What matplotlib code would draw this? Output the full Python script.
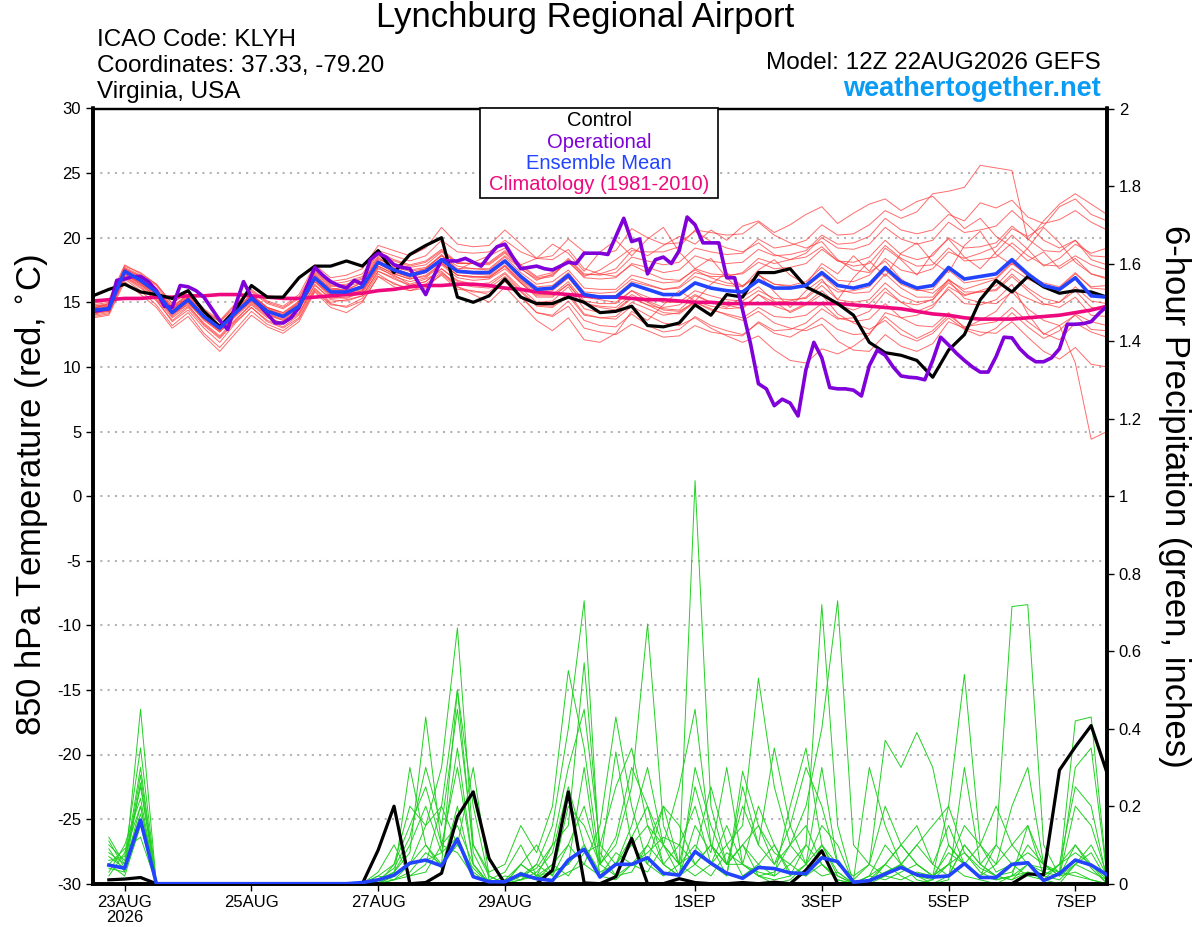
import matplotlib.pyplot as plt
import numpy as np
from matplotlib.patches import Rectangle

plt.rcParams['font.family'] = ['Liberation Sans', 'DejaVu Sans']
plt.rcParams['axes.unicode_minus'] = False

# GEFS 12Z 22AUG2026, forecast hours
hours = np.arange(0, 385, 6)
op_hours = np.arange(0, 385, 3)
precip_hours = hours[1:]

tick_hours = [12, 60, 108, 156, 228, 276, 324, 372]
tick_labels = ['23AUG\n2026', '25AUG', '27AUG', '29AUG', '1SEP', '3SEP', '5SEP', '7SEP']

# 850 hPa temperature (C)
control_temp = [
    15.5, 16.0, 16.4, 15.8, 15.6, 15.3, 15.9, 14.3, 13.1, 14.4, 16.3, 15.4, 15.4,
    16.9, 17.8, 17.8, 18.2, 17.8, 19.0, 17.3, 18.7, 19.4, 20.0, 15.4, 15.0, 15.5,
    16.8, 15.4, 14.9, 14.9, 15.4, 15.0, 14.2, 14.3, 14.7, 13.2, 13.1, 13.4, 14.8,
    14.0, 15.6, 15.4, 17.3, 17.3, 17.6, 16.2, 15.6, 14.9, 14.0, 11.9, 11.1, 10.9,
    10.5, 9.2, 11.3, 12.5, 15.2, 16.7, 15.8, 17.0, 16.2, 15.7, 15.9, 15.8, 15.4]

mean_temp = [
    14.4, 14.5, 17.4, 16.7, 15.8, 14.2, 15.2, 13.9, 13.0, 14.2, 15.3, 14.3, 13.9,
    14.7, 16.9, 15.8, 15.8, 16.2, 18.1, 17.5, 17.1, 17.4, 18.3, 17.4, 17.3, 17.3,
    18.2, 17.0, 16.0, 16.1, 17.1, 15.6, 15.4, 15.4, 16.4, 16.0, 15.6, 15.6, 16.5,
    16.1, 15.9, 15.8, 16.7, 16.1, 16.1, 16.3, 17.3, 16.3, 16.1, 16.4, 17.7, 16.6,
    16.1, 16.3, 17.7, 16.8, 17.0, 17.2, 18.3, 17.2, 16.3, 16.0, 16.9, 15.5, 15.4]

clim_temp = [
    15.1, 15.2, 15.3, 15.3, 15.4, 15.4, 15.5, 15.5, 15.6, 15.6, 15.5, 15.4, 15.3,
    15.3, 15.4, 15.5, 15.6, 15.7, 15.9, 16.0, 16.2, 16.3, 16.3, 16.4, 16.4, 16.3,
    16.1, 16.0, 15.8, 15.7, 15.6, 15.5, 15.4, 15.4, 15.3, 15.2, 15.2, 15.1, 15.0,
    15.0, 14.9, 14.9, 14.9, 14.9, 14.9, 14.9, 14.9, 14.9, 14.8, 14.7, 14.6, 14.5,
    14.3, 14.1, 14.0, 13.8, 13.7, 13.7, 13.7, 13.8, 13.9, 14.0, 14.2, 14.4, 14.7]

# operational run is 3-hourly
operational_temp = [
    14.3, 14.4, 14.5, 16.7, 16.8, 17.0, 17.0, 16.6, 15.9, 14.7, 14.6, 16.3, 16.2,
    15.9, 15.4, 14.5, 13.6, 12.9, 14.8, 16.6, 15.4, 14.8, 14.1, 13.4, 13.4, 13.8,
    14.6, 16.2, 17.7, 17.1, 16.6, 16.3, 16.1, 16.7, 16.4, 18.3, 18.8, 18.5, 17.9,
    17.7, 17.6, 16.6, 15.6, 17.0, 18.3, 18.2, 18.2, 18.4, 18.1, 17.8, 18.6, 19.3,
    19.5, 18.5, 17.6, 17.7, 17.8, 17.6, 17.5, 17.8, 18.1, 18.0, 18.8, 18.8, 18.8,
    18.7, 20.1, 21.5, 19.7, 19.9, 17.2, 18.3, 18.5, 18.0, 19.0, 21.6, 21.0, 19.6,
    19.6, 19.6, 16.9, 16.9, 14.4, 11.8, 8.7, 8.3, 7.0, 7.5, 7.2, 6.2, 9.8,
    11.9, 10.7, 8.4, 8.3, 8.3, 8.2, 7.75, 10.1, 11.3, 10.9, 10.0, 9.3, 9.2,
    9.15, 9.0, 10.5, 12.3, 11.7, 11.05, 10.5, 10.0, 9.6, 9.6, 10.8, 12.3, 12.25,
    11.4, 10.8, 10.4, 10.4, 10.7, 11.4, 13.3, 13.3, 13.35, 13.5, 14.15, 14.7]

member_temp = [
    [14.9, 15.2, 17.9, 17.2, 16.4, 14.9, 15.9, 14.4, 13.5, 14.8, 15.8, 14.9, 14.5,
     15.3, 17.5, 16.4, 16.6, 17.0, 18.9, 18.3, 17.9, 18.2, 19.1, 18.1, 18.0, 18.1,
     19.0, 17.9, 17.0, 17.3, 18.4, 17.2, 17.1, 17.3, 18.5, 18.2, 17.9, 18.1, 19.2,
     18.9, 18.7, 18.8, 19.9, 19.2, 19.4, 19.8, 21.0, 20.2, 20.3, 21.0, 22.1, 21.5,
     22.0, 23.4, 23.6, 23.9, 25.6, 25.4, 25.2, 19.8, 21.3, 22.6, 23.4, 22.6, 21.8],
    [14.1, 14.3, 17.0, 16.2, 15.1, 13.6, 14.6, 13.2, 12.2, 13.5, 14.6, 13.6, 13.1,
     14.0, 16.1, 15.0, 15.2, 15.5, 17.4, 16.9, 16.3, 16.6, 17.6, 16.7, 16.4, 16.5,
     17.3, 16.1, 15.0, 15.1, 16.2, 14.5, 14.2, 14.3, 15.3, 14.8, 14.5, 14.4, 15.5,
     15.0, 14.8, 14.5, 15.6, 14.7, 14.3, 14.9, 15.9, 14.8, 14.4, 14.9, 16.1, 15.0,
     14.3, 14.8, 16.0, 14.9, 14.8, 15.2, 16.4, 14.1, 12.5, 13.2, 10.3, 4.4, 5.0],
    [13.8, 14.0, 16.6, 15.6, 14.6, 13.0, 13.9, 12.4, 11.2, 12.6, 14.0, 13.1, 12.6,
     13.5, 15.8, 14.6, 14.2, 15.0, 17.0, 16.2, 15.9, 16.3, 17.1, 16.0, 15.9, 15.6,
     16.6, 15.5, 14.2, 14.0, 15.1, 13.6, 13.2, 13.1, 14.1, 13.2, 12.7, 12.9, 13.9,
     13.2, 12.8, 12.5, 13.4, 12.6, 12.3, 13.0, 13.8, 12.9, 12.5, 12.6, 13.9, 12.9,
     12.2, 12.8, 14.0, 13.1, 13.3, 13.5, 14.6, 13.5, 12.6, 12.1, 13.4, 12.7, 12.3],
    [14.6, 14.8, 17.7, 17.1, 16.3, 14.7, 15.6, 14.3, 13.5, 14.6, 15.9, 15.0, 14.6,
     15.4, 17.6, 16.6, 16.8, 17.2, 19.0, 18.6, 18.2, 18.6, 19.8, 18.9, 18.8, 18.9,
     19.8, 18.9, 18.4, 18.6, 19.9, 18.9, 18.7, 19.0, 20.7, 20.0, 19.5, 19.6, 20.5,
     19.7, 19.2, 18.9, 19.6, 18.7, 18.3, 18.5, 19.3, 18.2, 17.8, 18.0, 19.4, 18.4,
     17.8, 17.9, 19.2, 18.2, 18.3, 18.5, 19.6, 18.6, 17.9, 17.8, 18.6, 17.9, 17.5],
    [14.2, 14.4, 17.2, 16.5, 15.6, 14.0, 15.0, 13.6, 12.7, 13.9, 15.0, 14.0, 13.6,
     14.4, 16.6, 15.4, 15.3, 15.8, 17.7, 17.0, 16.6, 16.9, 17.9, 16.9, 16.7, 16.8,
     17.6, 16.5, 15.4, 15.4, 16.4, 14.9, 14.7, 14.6, 15.6, 15.0, 14.4, 14.3, 15.0,
     14.5, 14.0, 13.6, 14.3, 13.4, 13.0, 12.8, 13.3, 12.0, 11.3, 11.2, 12.5, 11.6,
     11.2, 11.8, 13.5, 13.0, 13.6, 14.3, 15.9, 15.3, 14.8, 15.0, 16.2, 15.1, 14.9],
    [14.5, 14.6, 17.3, 16.9, 15.9, 14.5, 15.3, 14.0, 13.1, 14.4, 15.5, 14.6, 14.1,
     14.9, 17.2, 16.0, 16.0, 16.5, 18.4, 17.7, 17.4, 17.6, 18.6, 17.6, 17.6, 17.5,
     18.5, 17.3, 16.4, 16.6, 17.5, 16.1, 16.0, 16.0, 17.1, 16.8, 16.5, 16.6, 17.6,
     17.2, 17.1, 17.2, 18.1, 17.6, 17.7, 18.0, 19.1, 18.2, 18.1, 18.5, 19.8, 18.7,
     18.3, 18.6, 20.0, 19.2, 19.3, 19.6, 20.9, 19.9, 19.0, 18.9, 19.8, 18.6, 18.5],
    [14.0, 14.2, 16.9, 16.1, 15.2, 13.5, 14.4, 13.0, 11.9, 13.4, 14.6, 13.5, 13.0,
     13.8, 16.0, 14.9, 14.6, 15.1, 17.0, 16.5, 15.9, 16.1, 17.2, 16.2, 15.8, 15.8,
     16.8, 15.4, 14.2, 13.9, 14.7, 13.0, 12.7, 12.5, 13.3, 12.8, 12.3, 12.4, 13.2,
     12.7, 12.5, 12.4, 13.5, 12.8, 12.9, 13.4, 14.5, 13.7, 13.8, 14.3, 15.8, 15.0,
     14.8, 15.2, 16.7, 16.0, 16.4, 16.8, 18.0, 17.1, 16.5, 16.2, 17.3, 16.1, 16.0],
    [14.7, 14.9, 17.8, 17.3, 16.4, 14.9, 15.8, 14.5, 13.6, 14.9, 16.0, 15.1, 14.7,
     15.6, 17.9, 16.9, 17.1, 17.6, 19.4, 19.0, 18.6, 19.2, 20.8, 19.5, 19.3, 19.4,
     20.6, 19.5, 18.4, 18.3, 19.1, 17.6, 17.2, 17.0, 17.9, 17.3, 16.8, 16.7, 17.5,
     16.9, 16.5, 16.3, 17.1, 16.4, 16.2, 16.2, 17.1, 16.0, 15.7, 15.8, 17.2, 16.1,
     15.4, 15.4, 16.8, 15.8, 15.8, 15.9, 17.0, 15.9, 14.9, 14.6, 15.4, 14.0, 13.9],
    [14.3, 14.6, 17.5, 16.6, 15.7, 14.3, 15.3, 13.8, 12.8, 14.0, 15.2, 14.2, 13.8,
     14.6, 16.8, 15.7, 15.6, 16.1, 18.0, 17.3, 17.0, 17.3, 18.1, 17.1, 17.0, 17.0,
     17.9, 16.7, 15.8, 15.9, 16.9, 15.5, 15.4, 15.5, 16.6, 16.3, 16.0, 16.2, 17.3,
     17.0, 17.0, 17.3, 18.4, 18.0, 18.3, 18.8, 20.0, 19.2, 19.1, 19.5, 20.8, 19.9,
     19.5, 19.8, 21.2, 20.4, 20.6, 20.9, 22.1, 21.0, 19.8, 19.2, 19.8, 18.3, 17.9],
    [14.4, 14.4, 17.1, 16.4, 15.5, 13.9, 14.9, 13.7, 12.9, 14.1, 15.1, 14.1, 13.7,
     14.5, 16.6, 15.6, 15.6, 15.9, 17.8, 17.2, 16.8, 17.0, 18.0, 17.1, 17.0, 16.9,
     17.8, 16.5, 15.5, 15.5, 16.4, 14.9, 14.6, 14.4, 15.4, 14.8, 14.2, 14.1, 15.0,
     14.4, 14.1, 13.8, 14.6, 13.9, 13.8, 14.0, 14.9, 13.8, 13.5, 13.7, 14.9, 13.8,
     13.2, 13.1, 14.2, 13.0, 12.7, 12.6, 13.5, 12.3, 11.2, 10.6, 11.5, 10.2, 10.0],
    [14.6, 14.7, 17.5, 16.8, 15.9, 14.4, 15.4, 14.1, 13.3, 14.5, 15.6, 14.6, 14.2,
     15.0, 17.3, 16.2, 16.3, 16.8, 18.6, 18.0, 17.7, 17.9, 18.9, 18.0, 18.0, 17.9,
     18.8, 17.6, 16.8, 17.0, 18.3, 17.1, 17.2, 17.6, 19.0, 18.9, 18.9, 19.3, 20.6,
     20.4, 20.2, 20.3, 21.2, 20.2, 19.6, 19.2, 19.7, 18.3, 17.5, 17.3, 18.2, 16.8,
     16.0, 15.7, 16.7, 15.3, 15.0, 14.9, 15.8, 14.5, 13.6, 13.2, 14.0, 12.9, 12.8],
    [14.2, 14.3, 17.0, 16.3, 15.3, 13.8, 14.7, 13.4, 12.4, 13.7, 14.8, 13.8, 13.4,
     14.2, 16.4, 15.2, 15.1, 15.5, 17.4, 16.8, 16.3, 16.6, 17.6, 16.6, 16.4, 16.3,
     17.2, 15.9, 14.8, 14.7, 15.7, 14.1, 13.8, 13.7, 14.7, 14.0, 13.4, 13.2, 13.8,
     13.0, 12.4, 11.9, 12.4, 11.3, 10.5, 10.3, 11.4, 11.0, 11.6, 12.5, 14.2, 13.8,
     14.0, 14.6, 16.2, 15.5, 15.9, 16.3, 17.6, 16.8, 16.2, 16.1, 17.2, 16.2, 16.3],
    [14.7, 14.8, 17.6, 17.0, 16.1, 14.6, 15.5, 14.2, 13.2, 14.5, 15.6, 14.6, 14.2,
     15.1, 17.4, 16.3, 16.4, 16.9, 18.8, 18.2, 17.8, 18.1, 19.0, 18.0, 18.0, 18.0,
     18.9, 17.8, 16.9, 17.1, 18.2, 16.9, 16.8, 16.9, 18.0, 17.7, 17.3, 17.5, 18.6,
     18.2, 18.0, 18.1, 19.1, 18.6, 18.7, 19.0, 20.2, 19.5, 19.6, 20.1, 21.5, 20.6,
     20.3, 20.6, 21.8, 21.3, 22.7, 22.3, 22.9, 21.6, 21.1, 21.4, 22.1, 21.2, 20.6],
    [14.3, 14.5, 17.2, 16.5, 15.6, 14.1, 15.0, 13.7, 12.7, 14.0, 15.1, 14.1, 13.6,
     14.4, 16.7, 15.5, 15.5, 15.9, 17.8, 17.2, 16.8, 17.1, 18.0, 17.1, 16.9, 16.9,
     17.8, 16.6, 15.6, 15.6, 16.6, 15.1, 14.9, 14.9, 15.9, 15.4, 15.0, 15.0, 15.9,
     15.5, 15.2, 15.1, 15.9, 15.3, 15.2, 15.3, 16.3, 15.2, 15.0, 15.2, 16.5, 15.5,
     15.0, 15.2, 16.5, 15.6, 15.8, 16.0, 17.2, 16.1, 15.3, 15.0, 15.9, 14.6, 14.5],
    [14.5, 14.9, 17.6, 16.8, 15.7, 14.6, 15.6, 14.2, 13.0, 14.3, 15.4, 14.4, 14.0,
     14.8, 17.1, 16.1, 15.9, 16.6, 18.5, 17.6, 17.2, 17.6, 18.7, 17.5, 18.1, 18.6,
     19.2, 17.9, 18.4, 19.5, 18.8, 17.4, 18.9, 19.8, 18.6, 19.9, 20.8, 18.9, 17.6,
     18.4, 16.9, 15.7, 17.2, 15.8, 14.6, 15.9, 16.8, 15.2, 16.9, 18.2, 17.0, 18.8,
     19.6, 18.1, 17.3, 19.4, 20.5, 18.7, 17.9, 19.2, 20.8, 19.6, 18.1, 17.2, 16.8],
    [14.0, 14.6, 17.2, 16.4, 15.4, 14.1, 14.8, 13.3, 12.3, 13.6, 14.9, 13.9, 13.3,
     14.1, 16.3, 15.3, 15.4, 15.7, 17.6, 17.1, 16.4, 16.8, 17.4, 16.2, 15.6, 15.0,
     16.2, 14.9, 13.6, 12.8, 13.8, 12.1, 11.9, 12.6, 14.3, 13.6, 14.8, 15.9, 15.1,
     16.4, 17.3, 16.2, 17.5, 18.3, 17.1, 16.4, 18.0, 17.2, 18.6, 17.4, 19.2, 18.3,
     17.1, 18.8, 19.9, 18.5, 17.6, 18.9, 20.2, 19.1, 17.8, 18.4, 19.5, 18.8, 19.2],
    [14.8, 15.0, 17.6, 17.0, 16.0, 14.5, 15.4, 14.0, 13.2, 14.3, 15.4, 14.5, 14.0,
     15.0, 17.0, 16.0, 16.2, 16.6, 18.3, 17.9, 17.5, 17.7, 18.6, 17.8, 17.6, 17.6,
     18.6, 17.6, 16.7, 17.2, 18.1, 17.0, 17.5, 18.3, 19.2, 18.6, 19.4, 20.1, 19.5,
     20.6, 19.8, 20.9, 21.3, 20.4, 21.0, 21.8, 22.4, 21.1, 21.9, 22.6, 23.0, 22.1,
     22.8, 23.2, 22.0, 20.7, 21.5, 20.1, 19.3, 18.2, 18.9, 17.6, 18.4, 17.2, 16.9],
    [14.6, 14.5, 17.3, 16.6, 15.8, 14.3, 15.1, 13.8, 12.8, 14.1, 15.2, 14.3, 13.8,
     14.6, 16.8, 15.7, 15.7, 16.0, 18.0, 17.4, 16.9, 17.3, 18.2, 17.3, 17.2, 17.1,
     18.1, 16.8, 15.9, 16.0, 16.9, 15.4, 15.2, 15.0, 15.9, 15.1, 14.6, 14.8, 15.6,
     15.0, 14.6, 15.4, 16.2, 15.1, 14.2, 14.8, 15.6, 14.1, 13.4, 12.9, 13.6, 12.5,
     12.0, 12.6, 13.8, 12.9, 12.4, 13.0, 14.2, 13.1, 12.2, 12.8, 14.1, 13.5, 13.2],
    [14.4, 14.7, 17.5, 16.8, 15.9, 14.3, 15.3, 14.1, 13.2, 14.3, 15.4, 14.5, 14.0,
     14.8, 17.0, 15.9, 15.9, 16.3, 18.2, 17.6, 17.2, 17.5, 18.4, 17.5, 17.4, 17.4,
     18.3, 17.1, 16.2, 16.3, 17.3, 15.8, 15.7, 15.8, 16.8, 16.4, 16.0, 16.1, 17.0,
     16.6, 16.3, 16.2, 17.1, 16.4, 16.3, 16.6, 17.7, 16.7, 16.6, 17.1, 18.4, 17.5,
     17.2, 17.6, 18.9, 18.4, 18.8, 19.3, 20.7, 20.1, 20.9, 22.4, 23.0, 21.8, 21.3],
    [13.9, 14.1, 16.8, 15.9, 14.8, 13.2, 14.2, 12.6, 11.5, 12.9, 14.3, 13.3, 12.8,
     13.7, 15.9, 14.8, 14.7, 15.3, 17.2, 16.4, 16.1, 16.4, 17.3, 16.4, 16.2, 16.1,
     17.0, 15.8, 14.7, 14.6, 15.5, 14.0, 13.8, 13.9, 15.0, 14.5, 14.0, 14.2, 15.1,
     14.7, 14.5, 14.6, 15.6, 15.0, 15.1, 15.4, 16.6, 15.8, 15.9, 16.2, 17.5, 16.4,
     15.9, 16.0, 17.5, 16.5, 16.7, 16.9, 18.1, 17.0, 16.1, 15.9, 16.8, 15.6, 15.5],
]

# 6-hour precipitation (inches), starting at hour 6
control_precip = [
    0.01, 0.012, 0.016, 0, 0, 0, 0, 0, 0, 0, 0, 0, 0, 0, 0, 0,
    0, 0.087, 0.2, 0, 0.003, 0.027, 0.173, 0.237, 0.065, 0, 0, 0, 0.035, 0.237, 0.002, 0,
    0.018, 0.117, 0, 0, 0.013, 0.003, 0, 0, 0.003, 0, 0.004, 0, 0.035, 0.085, 0, 0,
    0, 0, 0, 0, 0, 0, 0, 0, 0, 0, 0.025, 0.023, 0.293, 0.353, 0.408, 0.286]

mean_precip = [
    0.048, 0.04, 0.164, 0, 0, 0, 0, 0, 0, 0, 0, 0, 0, 0, 0, 0,
    0.003, 0.01, 0.022, 0.053, 0.061, 0.046, 0.115, 0.018, 0.005, 0.005, 0.025, 0.013, 0.008, 0.061, 0.089, 0.017,
    0.05, 0.05, 0.067, 0.027, 0.022, 0.083, 0.053, 0.027, 0.014, 0.042, 0.039, 0.028, 0.026, 0.067, 0.057, 0.004,
    0.008, 0.025, 0.042, 0.023, 0.017, 0.02, 0.052, 0.016, 0.016, 0.05, 0.054, 0.008, 0.026, 0.061, 0.048, 0.023]

member_precip = [
    [0.08, 0.05, 0.30, 0, 0, 0, 0, 0, 0, 0, 0, 0, 0, 0, 0, 0,
     0, 0, 0.02, 0.05, 0.10, 0.04, 0.20, 0.02, 0, 0, 0.01, 0.03, 0.08, 0.25, 0.10, 0.02,
     0.05, 0.15, 0.30, 0.10, 0.05, 1.04, 0.20, 0.05, 0.10, 0.02, 0, 0.01, 0.05, 0.10, 0.03, 0,
     0, 0.02, 0.05, 0.01, 0, 0.02, 0.10, 0.05, 0.02, 0.01, 0.05, 0.03, 0.02, 0.10, 0.04, 0],
    [0.04, 0.03, 0.45, 0, 0, 0, 0, 0, 0, 0, 0, 0, 0, 0, 0, 0,
     0, 0.01, 0.03, 0.08, 0.43, 0.10, 0.30, 0.05, 0, 0.01, 0.02, 0.05, 0.15, 0.40, 0.73, 0.05,
     0.02, 0.05, 0.10, 0.05, 0.02, 0.15, 0.08, 0.30, 0.05, 0.02, 0.01, 0.02, 0.10, 0.72, 0.15, 0,
     0.01, 0.05, 0.02, 0, 0.01, 0.05, 0.08, 0.03, 0.01, 0.02, 0.03, 0.01, 0, 0.05, 0.08, 0.01],
    [0.10, 0.06, 0.25, 0, 0, 0, 0, 0, 0, 0, 0, 0, 0, 0, 0, 0,
     0, 0, 0.05, 0.20, 0.15, 0.30, 0.66, 0.10, 0.02, 0, 0.03, 0.01, 0.05, 0.10, 0.20, 0.05,
     0.10, 0.25, 0.67, 0.15, 0.05, 0.08, 0.25, 0.10, 0.02, 0.05, 0.10, 0.03, 0.02, 0.05, 0.01, 0,
     0.02, 0.10, 0.05, 0.02, 0, 0.01, 0.30, 0.05, 0.02, 0.03, 0.10, 0.05, 0.02, 0.20, 0.15, 0.02],
    [0.02, 0.08, 0.20, 0, 0, 0, 0, 0, 0, 0, 0, 0, 0, 0, 0, 0,
     0, 0.02, 0.01, 0.03, 0.08, 0.05, 0.50, 0.20, 0.01, 0, 0.02, 0.04, 0.10, 0.15, 0.57, 0.08,
     0.02, 0.03, 0.10, 0.20, 0.05, 0.10, 0.05, 0.10, 0.15, 0.53, 0.25, 0.10, 0.20, 0.40, 0.73, 0.10,
     0.05, 0.02, 0.01, 0.03, 0.02, 0.05, 0.02, 0.01, 0, 0.02, 0.05, 0.04, 0.03, 0.02, 0.01, 0],
    [0.05, 0.02, 0.15, 0, 0, 0, 0, 0, 0, 0, 0, 0, 0, 0, 0, 0,
     0, 0, 0.01, 0.02, 0.03, 0.10, 0.15, 0.05, 0, 0, 0.01, 0.02, 0.03, 0.05, 0.10, 0.03,
     0.05, 0.10, 0.15, 0.05, 0.02, 0.05, 0.10, 0.05, 0.10, 0.15, 0.08, 0.05, 0.02, 0.10, 0.05, 0.01,
     0.05, 0.37, 0.30, 0.39, 0.30, 0.10, 0.05, 0.02, 0.10, 0.715, 0.72, 0.10, 0.02, 0.05, 0.03, 0.01],
    [0.07, 0.04, 0.28, 0, 0, 0, 0, 0, 0, 0, 0, 0, 0, 0, 0, 0,
     0, 0.01, 0.02, 0.05, 0.06, 0.08, 0.12, 0.03, 0, 0.01, 0.05, 0.02, 0.01, 0.03, 0.05, 0.02,
     0.01, 0.05, 0.08, 0.12, 0.10, 0.05, 0.02, 0.08, 0.05, 0.02, 0.03, 0.10, 0.15, 0.05, 0.02, 0,
     0.01, 0.02, 0.05, 0.10, 0.15, 0.20, 0.54, 0.10, 0.03, 0.05, 0.08, 0.05, 0.03, 0.42, 0.43, 0.02],
    [0.03, 0.10, 0.22, 0, 0, 0, 0, 0, 0, 0, 0, 0, 0, 0, 0, 0,
     0, 0.03, 0.10, 0.02, 0.05, 0.20, 0.50, 0.08, 0, 0.02, 0.01, 0.05, 0.02, 0.10, 0.05, 0.15,
     0.43, 0.20, 0.05, 0.02, 0.05, 0.25, 0.10, 0.05, 0.20, 0.10, 0.35, 0.15, 0.05, 0.02, 0.03, 0,
     0.02, 0.05, 0.10, 0.05, 0.02, 0.08, 0.05, 0.10, 0.20, 0.10, 0.05, 0.02, 0.05, 0.08, 0.05, 0.01],
    [0.09, 0.03, 0.26, 0, 0, 0, 0, 0, 0, 0, 0, 0, 0, 0, 0, 0,
     0, 0, 0.02, 0.30, 0.10, 0.05, 0.10, 0.04, 0, 0, 0.05, 0.10, 0.02, 0.20, 0.15, 0.05,
     0.34, 0.10, 0.05, 0.20, 0.15, 0.05, 0.10, 0.02, 0.29, 0.15, 0.05, 0.10, 0.05, 0.30, 0.05, 0.01,
     0.30, 0.15, 0.05, 0.02, 0.01, 0.10, 0.05, 0.02, 0.01, 0.02, 0.15, 0.05, 0.02, 0.03, 0.01, 0],
    [0.12, 0.05, 0.18, 0, 0, 0, 0, 0, 0, 0, 0, 0, 0, 0, 0, 0,
     0, 0.02, 0.05, 0.15, 0.25, 0.10, 0.08, 0.02, 0.01, 0.03, 0.10, 0.02, 0.05, 0.02, 0.08, 0.10,
     0.05, 0.12, 0.20, 0.10, 0.05, 0.02, 0.05, 0.15, 0.05, 0.03, 0.02, 0.05, 0.10, 0.05, 0.01, 0,
     0.02, 0.01, 0.03, 0.05, 0.02, 0.20, 0.08, 0.04, 0.02, 0.01, 0.03, 0.02, 0.05, 0.25, 0.20, 0.01],
    [0.06, 0.07, 0.35, 0, 0, 0, 0, 0, 0, 0, 0, 0, 0, 0, 0, 0,
     0, 0, 0.03, 0.10, 0.20, 0.08, 0.35, 0.05, 0, 0, 0.02, 0.01, 0.03, 0.05, 0.30, 0.02,
     0.08, 0.05, 0.03, 0.10, 0.02, 0.30, 0.15, 0.05, 0.10, 0.05, 0.02, 0.20, 0.35, 0.10, 0.02, 0,
     0, 0.05, 0.10, 0.15, 0.05, 0.02, 0.10, 0.05, 0.10, 0.05, 0.02, 0.01, 0.05, 0.10, 0.05, 0],
    [0.05, 0.09, 0.12, 0, 0, 0, 0, 0, 0, 0, 0, 0, 0, 0, 0, 0,
     0, 0.01, 0.04, 0.12, 0.30, 0.15, 0.45, 0.10, 0.03, 0.05, 0.15, 0.08, 0.20, 0.55, 0.35, 0.05,
     0.12, 0.30, 0.20, 0.05, 0.10, 0.20, 0.05, 0.02, 0.25, 0.10, 0.05, 0.15, 0.30, 0.20, 0.05, 0.02,
     0.05, 0.20, 0.10, 0.05, 0.02, 0.05, 0.15, 0.10, 0.05, 0.20, 0.30, 0.05, 0.02, 0.30, 0.35, 0.02],
    [0.11, 0.04, 0.20, 0, 0, 0, 0, 0, 0, 0, 0, 0, 0, 0, 0, 0,
     0, 0, 0.01, 0.05, 0.15, 0.20, 0.10, 0.30, 0.02, 0, 0.05, 0.02, 0.10, 0.30, 0.45, 0.10,
     0.25, 0.35, 0.15, 0.10, 0.25, 0.45, 0.10, 0.05, 0.05, 0.20, 0.10, 0.02, 0.05, 0.15, 0.10, 0,
     0.01, 0.03, 0.05, 0.10, 0.05, 0.15, 0.05, 0.02, 0.05, 0.10, 0.15, 0.02, 0.01, 0.05, 0.10, 0.02],
]

W, H = 1200, 927
fig = plt.figure(figsize=(W / 100, H / 100), dpi=100)
ax = fig.add_axes([93 / W, 43.3 / H, 1014 / W, 775.2 / H])
ax2 = ax.twinx()

# temperature
for m in member_temp:
    ax.plot(hours[:len(m)], m, color='#ff3b3b', lw=0.7, alpha=0.75, zorder=2)
ax.plot(hours, clim_temp, color='#ee0a7e', lw=2.6, zorder=3)
ax.plot(hours, control_temp, color='black', lw=2.3, zorder=4)
ax.plot(op_hours, operational_temp, color='#7f00d8', lw=2.6, zorder=5)
ax.plot(hours, mean_temp, color='#2244ff', lw=2.6, zorder=6)

# precipitation
for m in member_precip:
    ax2.plot(precip_hours[:len(m)], m, color='#22d022', lw=0.7, zorder=2)
ax2.plot(precip_hours, control_precip, color='black', lw=2.3, zorder=4)
ax2.plot(precip_hours, mean_precip, color='#2244ff', lw=2.6, zorder=5)

ax.set_xlim(0, 384)
ax.set_ylim(-30, 30)
ax.set_yticks(range(-30, 31, 5))
ax.yaxis.grid(True, color='#b4b4b4', lw=1.5, ls=(0, (1, 2.5)))
ax.set_axisbelow(True)
ax.set_xticks(tick_hours)
ax.set_xticklabels(tick_labels, fontsize=12, linespacing=1.05)
ax.tick_params(axis='y', labelsize=12, length=5, width=1)
ax.tick_params(axis='x', length=5, width=1, pad=3)

ax2.set_ylim(0, 2)
ax2.set_yticks(np.arange(0, 2.01, 0.2))
ax2.set_yticklabels(['{:g}'.format(round(v, 1)) for v in np.arange(0, 2.01, 0.2)])
ax2.tick_params(axis='y', labelsize=12, length=5, width=1)

for a in (ax, ax2):
    for side in ('left', 'right', 'bottom'):
        a.spines[side].set_linewidth(2.6)
    a.spines['top'].set_linewidth(1.6)

# header text
fig.text(585 / W, 1 - 18 / H, 'Lynchburg Regional Airport', ha='center', va='center', fontsize=25)
fig.text(97 / W, 1 - 40 / H, 'ICAO Code: KLYH', ha='left', va='center', fontsize=17.5)
fig.text(97 / W, 1 - 66 / H, 'Coordinates: 37.33, -79.20', ha='left', va='center', fontsize=17.5)
fig.text(97 / W, 1 - 92 / H, 'Virginia, USA', ha='left', va='center', fontsize=17.5)
fig.text(1101 / W, 1 - 63 / H, 'Model: 12Z 22AUG2026 GEFS', ha='right', va='center', fontsize=17.5)
fig.text(1101 / W, 1 - 89 / H, 'weathertogether.net', ha='right', va='center',
         fontsize=19.5, fontweight='bold', color='#0a9cf5')

fig.text(32 / W, 1 - 495 / H, '850 hPa Temperature (red, $^{\\circ}$C)', rotation=90,
         ha='center', va='center', fontsize=25)
fig.text(1175 / W, 1 - 496 / H, '6-hour Precipitation (green, inches)', rotation=270,
         ha='center', va='center', fontsize=25)

# legend box
fig.patches.append(Rectangle((480 / W, 1 - 198 / H), 238 / W, 90 / H, transform=fig.transFigure,
                             facecolor='white', edgecolor='black', lw=1.2, zorder=10))
legend_items = [('Control', 'black'), ('Operational', '#7f00d8'),
                ('Ensemble Mean', '#2244ff'), ('Climatology (1981-2010)', '#ee0a7e')]
for k, (name, col) in enumerate(legend_items):
    fig.text(599 / W, 1 - (121 + 21.3 * k) / H, name, ha='center', va='center',
             fontsize=14.5, color=col, zorder=11)

fig.savefig('out.png', dpi=100)
